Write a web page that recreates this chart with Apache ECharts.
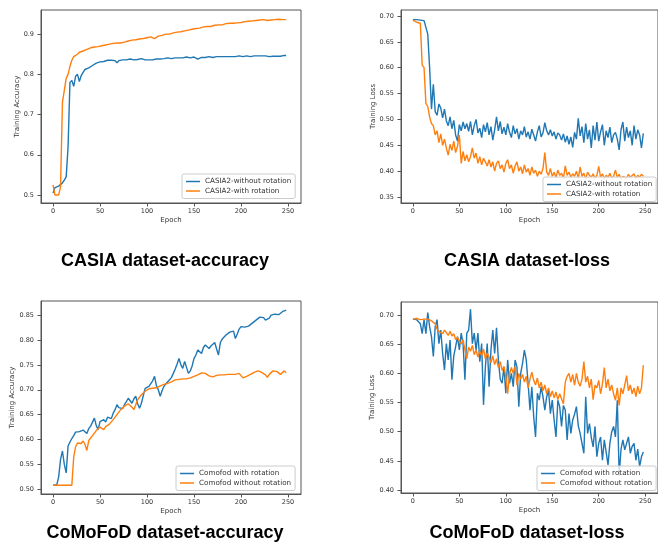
<!DOCTYPE html>
<html>
<head>
<meta charset="utf-8">
<script src="https://cdn.jsdelivr.net/npm/echarts@6/dist/echarts.min.js"></script>
<style>
  html, body { margin: 0; padding: 0; background: #fff; }
  #chart { width: 658px; height: 542px; }
</style>
</head>
<body>
<div id="chart"></div>
<script>
// epoch positions of the plotted points (every second epoch)
const epochs = Array.from({ length: 125 }, (_, i) => i * 2);
const xTicks = [0, 50, 100, 150, 200, 250];

// CASIA accuracy
const acc1Blue = [
  0.505, 0.518, 0.515, 0.522, 0.525, 0.530, 0.537, 0.545, 0.620, 0.780,
  0.785, 0.770, 0.795, 0.800, 0.782, 0.797, 0.805, 0.812, 0.808, 0.816,
  0.820, 0.822, 0.826, 0.828, 0.830, 0.831, 0.833, 0.832, 0.834, 0.835,
  0.834, 0.835, 0.836, 0.834, 0.829, 0.834, 0.835, 0.836, 0.837, 0.836,
  0.837, 0.838, 0.837, 0.836, 0.838, 0.837, 0.838, 0.839, 0.837, 0.836,
  0.837, 0.836, 0.835, 0.836, 0.837, 0.838, 0.839, 0.838, 0.840, 0.839,
  0.840, 0.841, 0.840, 0.839, 0.840, 0.841, 0.840, 0.841, 0.842, 0.841,
  0.842, 0.843, 0.842, 0.841, 0.842, 0.843, 0.842, 0.838, 0.841, 0.842,
  0.843, 0.842, 0.843, 0.844, 0.843, 0.842, 0.843, 0.844, 0.843, 0.844,
  0.843, 0.844, 0.845, 0.844, 0.843, 0.844, 0.845, 0.844, 0.845, 0.846,
  0.845, 0.844, 0.845, 0.846, 0.845, 0.844, 0.845, 0.846, 0.845, 0.846,
  0.845, 0.846, 0.845, 0.846, 0.845, 0.844, 0.840, 0.845, 0.846, 0.845,
  0.846, 0.845, 0.846, 0.847, 0.847
];
const acc1Orange = [
  0.525, 0.500, 0.500, 0.500, 0.520, 0.730, 0.760, 0.790, 0.800, 0.820,
  0.835, 0.844, 0.848, 0.850, 0.855, 0.856, 0.858, 0.860, 0.862, 0.864,
  0.866, 0.865, 0.868, 0.866, 0.869, 0.868, 0.871, 0.870, 0.873, 0.872,
  0.875, 0.874, 0.877, 0.876, 0.878, 0.879, 0.878, 0.881, 0.880, 0.882,
  0.883, 0.884, 0.885, 0.884, 0.886, 0.887, 0.888, 0.887, 0.889, 0.890,
  0.891, 0.892, 0.893, 0.892, 0.889, 0.893, 0.895, 0.896, 0.897, 0.899,
  0.900, 0.901, 0.900, 0.902, 0.903, 0.904, 0.905, 0.904, 0.906, 0.907,
  0.908, 0.909, 0.910, 0.911, 0.912, 0.913, 0.914, 0.916, 0.915, 0.917,
  0.918, 0.917, 0.919, 0.920, 0.919, 0.921, 0.922, 0.921, 0.923, 0.924,
  0.923, 0.925, 0.926, 0.925, 0.927, 0.928, 0.927, 0.929, 0.928, 0.930,
  0.929, 0.930, 0.931, 0.930, 0.932, 0.931, 0.933, 0.932, 0.934, 0.933,
  0.935, 0.934, 0.936, 0.935, 0.934, 0.936, 0.935, 0.937, 0.936, 0.938,
  0.937, 0.938, 0.936, 0.937, 0.936
];

// CASIA loss
const loss1Blue = [
  0.693, 0.692, 0.693, 0.692, 0.692, 0.693, 0.691, 0.690, 0.665, 0.600,
  0.520, 0.568, 0.515, 0.508, 0.530, 0.522, 0.503, 0.520, 0.497, 0.488,
  0.505, 0.482, 0.498, 0.470, 0.458, 0.490, 0.478, 0.495, 0.482, 0.492,
  0.477, 0.496, 0.470, 0.488, 0.500, 0.474, 0.483, 0.465, 0.490, 0.476,
  0.494, 0.470, 0.486, 0.460, 0.480, 0.505, 0.478, 0.496, 0.472, 0.485,
  0.470, 0.492, 0.475, 0.465, 0.488, 0.472, 0.482, 0.462, 0.478, 0.470,
  0.486, 0.466, 0.476, 0.462, 0.481, 0.470, 0.458, 0.476, 0.488, 0.466,
  0.474, 0.494, 0.478, 0.470, 0.480, 0.468, 0.476, 0.462, 0.474, 0.470,
  0.460, 0.472, 0.456, 0.468, 0.452, 0.466, 0.446, 0.475, 0.462, 0.502,
  0.468, 0.486, 0.455, 0.492, 0.462, 0.480, 0.445, 0.488, 0.460, 0.495,
  0.458, 0.476, 0.490, 0.450, 0.478, 0.465, 0.485, 0.455, 0.470, 0.475,
  0.462, 0.441, 0.480, 0.495, 0.458, 0.485, 0.465, 0.478, 0.450, 0.488,
  0.462, 0.480, 0.470, 0.445, 0.473
];
const loss1Orange = [
  0.692, 0.690, 0.688, 0.690, 0.686, 0.605, 0.600, 0.531, 0.525, 0.505,
  0.492, 0.488, 0.470, 0.478, 0.455, 0.472, 0.450, 0.462, 0.445, 0.431,
  0.452, 0.440, 0.458, 0.436, 0.448, 0.470, 0.415, 0.438, 0.420, 0.432,
  0.418, 0.428, 0.445, 0.425, 0.435, 0.415, 0.428, 0.412, 0.425, 0.418,
  0.410, 0.422, 0.408, 0.418, 0.400, 0.415, 0.420, 0.405, 0.412, 0.398,
  0.415, 0.422, 0.405, 0.412, 0.396, 0.410, 0.418, 0.400, 0.408, 0.395,
  0.412, 0.398, 0.405, 0.392, 0.408, 0.396, 0.402, 0.390, 0.400, 0.394,
  0.405, 0.436, 0.398, 0.392, 0.405, 0.390, 0.398, 0.388, 0.402, 0.392,
  0.396, 0.386, 0.410, 0.392, 0.398, 0.388, 0.395, 0.390, 0.400, 0.386,
  0.408, 0.390, 0.396, 0.385, 0.398, 0.392, 0.388, 0.395, 0.386, 0.392,
  0.409, 0.388, 0.395, 0.385, 0.392, 0.388, 0.396, 0.386, 0.390, 0.402,
  0.388, 0.394, 0.385, 0.390, 0.392, 0.386, 0.394, 0.388, 0.390, 0.395,
  0.386, 0.392, 0.388, 0.394, 0.390
];

// CoMoFoD accuracy
const acc2Blue = [
  0.508, 0.508, 0.509, 0.525, 0.560, 0.577, 0.550, 0.533, 0.587, 0.595,
  0.602, 0.608, 0.615, 0.618, 0.616, 0.620, 0.619, 0.616, 0.612, 0.622,
  0.627, 0.635, 0.643, 0.628, 0.620, 0.636, 0.632, 0.640, 0.635, 0.645,
  0.647, 0.642, 0.653, 0.660, 0.670, 0.664, 0.660, 0.662, 0.670, 0.676,
  0.683, 0.678, 0.673, 0.682, 0.687, 0.672, 0.663, 0.673, 0.688, 0.703,
  0.700, 0.707, 0.710, 0.718, 0.727, 0.708, 0.700, 0.687, 0.698, 0.707,
  0.712, 0.716, 0.720, 0.725, 0.733, 0.742, 0.752, 0.763, 0.750, 0.743,
  0.757, 0.745, 0.733, 0.738, 0.748, 0.763, 0.770, 0.780, 0.776, 0.773,
  0.785, 0.790, 0.786, 0.783, 0.788, 0.792, 0.795, 0.782, 0.770, 0.795,
  0.802, 0.806, 0.810, 0.813, 0.816, 0.820, 0.818, 0.803, 0.812, 0.822,
  0.827, 0.825, 0.826, 0.823, 0.828, 0.832, 0.834, 0.836, 0.840, 0.842,
  0.846, 0.850, 0.845, 0.840, 0.837, 0.844, 0.850, 0.848, 0.852, 0.853,
  0.851, 0.855, 0.857, 0.856, 0.860
];
const acc2Orange = [
  0.508, 0.508, 0.508, 0.508, 0.508, 0.508, 0.508, 0.508, 0.508, 0.508,
  0.508, 0.565, 0.585, 0.593, 0.595, 0.592, 0.597, 0.590, 0.578, 0.598,
  0.603, 0.608, 0.612, 0.618, 0.622, 0.625, 0.622, 0.620, 0.626, 0.630,
  0.631, 0.635, 0.640, 0.645, 0.650, 0.655, 0.660, 0.664, 0.667, 0.670,
  0.672, 0.668, 0.665, 0.660, 0.670, 0.680, 0.685, 0.690, 0.693, 0.697,
  0.700, 0.702, 0.700, 0.703, 0.705, 0.704, 0.707, 0.708, 0.710, 0.711,
  0.712, 0.713, 0.715, 0.716, 0.718, 0.720, 0.719, 0.721, 0.720, 0.722,
  0.723, 0.722, 0.725, 0.724, 0.726, 0.727, 0.729, 0.730, 0.731, 0.734,
  0.737, 0.733, 0.730, 0.728, 0.727, 0.726, 0.727, 0.729, 0.728, 0.730,
  0.731, 0.730, 0.729, 0.731, 0.732, 0.731, 0.730, 0.731, 0.732, 0.733,
  0.732, 0.724, 0.722, 0.727, 0.730, 0.731, 0.733, 0.735, 0.736, 0.738,
  0.737, 0.735, 0.734, 0.730, 0.725, 0.731, 0.735, 0.738, 0.740, 0.737,
  0.735, 0.731, 0.734, 0.738, 0.734
];

// CoMoFoD loss
const loss2Blue = [
  0.693, 0.693, 0.692, 0.690, 0.685, 0.668, 0.692, 0.668, 0.704, 0.680,
  0.663, 0.629, 0.680, 0.692, 0.651, 0.674, 0.634, 0.606, 0.651, 0.623,
  0.657, 0.589, 0.630, 0.646, 0.663, 0.640, 0.669, 0.651, 0.589, 0.669,
  0.674, 0.710, 0.651, 0.669, 0.640, 0.669, 0.620, 0.651, 0.546, 0.611,
  0.651, 0.577, 0.640, 0.674, 0.634, 0.678, 0.623, 0.590, 0.583, 0.611,
  0.566, 0.623, 0.583, 0.600, 0.577, 0.623, 0.611, 0.543, 0.600, 0.617,
  0.640, 0.623, 0.583, 0.537, 0.577, 0.526, 0.491, 0.566, 0.554, 0.577,
  0.560, 0.537, 0.560, 0.571, 0.531, 0.554, 0.520, 0.491, 0.554, 0.543,
  0.509, 0.545, 0.537, 0.486, 0.531, 0.497, 0.520, 0.530, 0.543, 0.510,
  0.497, 0.480, 0.463, 0.560, 0.497, 0.514, 0.490, 0.474, 0.509, 0.457,
  0.480, 0.491, 0.451, 0.486, 0.465, 0.443, 0.480, 0.500, 0.509, 0.491,
  0.554, 0.425, 0.470, 0.486, 0.469, 0.480, 0.491, 0.463, 0.475, 0.480,
  0.451, 0.470, 0.440, 0.457, 0.465
];
const loss2Orange = [
  0.693, 0.693, 0.694, 0.693, 0.692, 0.690, 0.693, 0.692, 0.693, 0.692,
  0.690, 0.688, 0.685, 0.676, 0.672, 0.675, 0.668, 0.674, 0.670, 0.665,
  0.672, 0.664, 0.668, 0.658, 0.662, 0.655, 0.650, 0.658, 0.640, 0.625,
  0.645, 0.638, 0.648, 0.632, 0.640, 0.628, 0.638, 0.630, 0.642, 0.625,
  0.635, 0.628, 0.618, 0.630, 0.615, 0.625, 0.610, 0.620, 0.605, 0.612,
  0.595, 0.565, 0.598, 0.610, 0.600, 0.612, 0.580, 0.600, 0.590, 0.598,
  0.585, 0.595, 0.575, 0.590, 0.602, 0.588, 0.580, 0.592, 0.575, 0.585,
  0.570, 0.580, 0.565, 0.575, 0.560, 0.570, 0.558, 0.568, 0.555, 0.565,
  0.556, 0.548, 0.585, 0.595, 0.600, 0.585, 0.598, 0.580, 0.600, 0.585,
  0.578, 0.590, 0.620, 0.585, 0.595, 0.575, 0.590, 0.555, 0.580, 0.575,
  0.588, 0.565, 0.582, 0.610, 0.575, 0.590, 0.570, 0.580, 0.565, 0.554,
  0.575, 0.545, 0.575, 0.565, 0.580, 0.596, 0.570, 0.580, 0.565, 0.575,
  0.560, 0.578, 0.565, 0.575, 0.614
];

const BLUE = '#1f77b4';
const ORANGE = '#ff7f0e';
const FONT = '"DejaVu Sans", sans-serif';

const chart = echarts.init(document.getElementById('chart'));

function xAxis(i) {
  return {
    gridIndex: i, type: 'value', min: -12.8, max: 263.8,
    name: 'Epoch', nameLocation: 'middle', nameGap: 14, nameMoveOverlap: false,
    nameTextStyle: { fontFamily: FONT, fontSize: 7, color: '#333' },
    axisLine: { show: true, onZero: false, lineStyle: { color: '#555', width: 1 } },
    axisTick: { show: true, length: 3.5, customValues: xTicks, lineStyle: { color: '#555' } },
    axisLabel: { customValues: xTicks, fontFamily: FONT, fontSize: 6.5, color: '#333', margin: 5 },
    splitLine: { show: false }
  };
}

function yAxis(i, min, max, ticks, dec, name, gap) {
  return {
    gridIndex: i, type: 'value', min, max,
    name, nameLocation: 'middle', nameGap: gap, nameRotate: 90, nameMoveOverlap: false,
    nameTextStyle: { fontFamily: FONT, fontSize: 7, color: '#333' },
    axisLine: { show: true, onZero: false, lineStyle: { color: '#555', width: 1 } },
    axisTick: { show: true, length: 3.5, customValues: ticks, lineStyle: { color: '#555' } },
    axisLabel: {
      customValues: ticks, fontFamily: FONT, fontSize: 6.5, color: '#333', margin: 7,
      formatter: v => v.toFixed(dec)
    },
    splitLine: { show: false }
  };
}

function line(name, i, ys, color) {
  return {
    name, type: 'line', xAxisIndex: i, yAxisIndex: i,
    data: epochs.map((e, k) => [e, ys[k]]),
    symbol: 'none', showSymbol: false,
    lineStyle: { width: 1.4, color }, itemStyle: { color },
    silent: true
  };
}

function legend(names, left, top) {
  return {
    data: names, left, top, orient: 'vertical',
    icon: 'rect', itemWidth: 14, itemHeight: 1.5, itemGap: 2.5,
    padding: [4, 4, 4, 4],
    backgroundColor: 'rgba(255,255,255,0.8)', borderColor: '#ccc', borderWidth: 1, borderRadius: 2,
    textStyle: { fontFamily: FONT, fontSize: 7.2, color: '#333' },
    selectedMode: false
  };
}

function title(text, x, y) {
  return {
    text, left: x, top: y, textAlign: 'center', padding: 0,
    textStyle: { fontFamily: '"Liberation Sans", Arial, sans-serif', fontWeight: 'bold', fontSize: 18, color: '#000' }
  };
}

const gridStyle = { show: true, borderColor: '#555', borderWidth: 1, backgroundColor: '#fff' };

chart.setOption({
  animation: false,
  backgroundColor: '#fff',
  title: [
    title('CASIA dataset-accuracy', 165, 252),
    title('CASIA dataset-loss', 527, 252),
    title('CoMoFoD dataset-accuracy', 165, 524),
    title('CoMoFoD dataset-loss', 527, 524)
  ],
  grid: [
    Object.assign({ left: 41, top: 10, width: 260, height: 193 }, gridStyle),
    Object.assign({ left: 401, top: 10, width: 262, height: 193 }, gridStyle),
    Object.assign({ left: 41, top: 301, width: 260, height: 193 }, gridStyle),
    Object.assign({ left: 401, top: 302, width: 262, height: 191 }, gridStyle)
  ],
  xAxis: [xAxis(0), xAxis(1), xAxis(2), xAxis(3)],
  yAxis: [
    yAxis(0, 0.48, 0.96, [0.5, 0.6, 0.7, 0.8, 0.9], 1, 'Training Accuracy', 20),
    yAxis(1, 0.3384, 0.7116, [0.35, 0.40, 0.45, 0.50, 0.55, 0.60, 0.65, 0.70], 2, 'Training Loss', 24),
    yAxis(2, 0.4905, 0.8785, [0.50, 0.55, 0.60, 0.65, 0.70, 0.75, 0.80, 0.85], 2, 'Training Accuracy', 25),
    yAxis(3, 0.3949, 0.7223, [0.40, 0.45, 0.50, 0.55, 0.60, 0.65, 0.70], 2, 'Training Loss', 25)
  ],
  legend: [
    legend(['CASIA2-without rotation', 'CASIA2-with rotation'], 182, 174),
    legend(['CASIA2-without rotation', 'CASIA2-with rotation'], 543, 177),
    legend(['Comofod with rotation', 'Comofod without rotation'], 176, 466),
    legend(['Comofod with rotation', 'Comofod without rotation'], 537, 466)
  ],
  series: [
    line('CASIA2-without rotation', 0, acc1Blue, BLUE),
    line('CASIA2-with rotation', 0, acc1Orange, ORANGE),
    line('CASIA2-without rotation', 1, loss1Blue, BLUE),
    line('CASIA2-with rotation', 1, loss1Orange, ORANGE),
    line('Comofod with rotation', 2, acc2Blue, BLUE),
    line('Comofod without rotation', 2, acc2Orange, ORANGE),
    line('Comofod with rotation', 3, loss2Blue, BLUE),
    line('Comofod without rotation', 3, loss2Orange, ORANGE)
  ]
});

window.addEventListener('resize', () => chart.resize());
</script>
</body>
</html>
